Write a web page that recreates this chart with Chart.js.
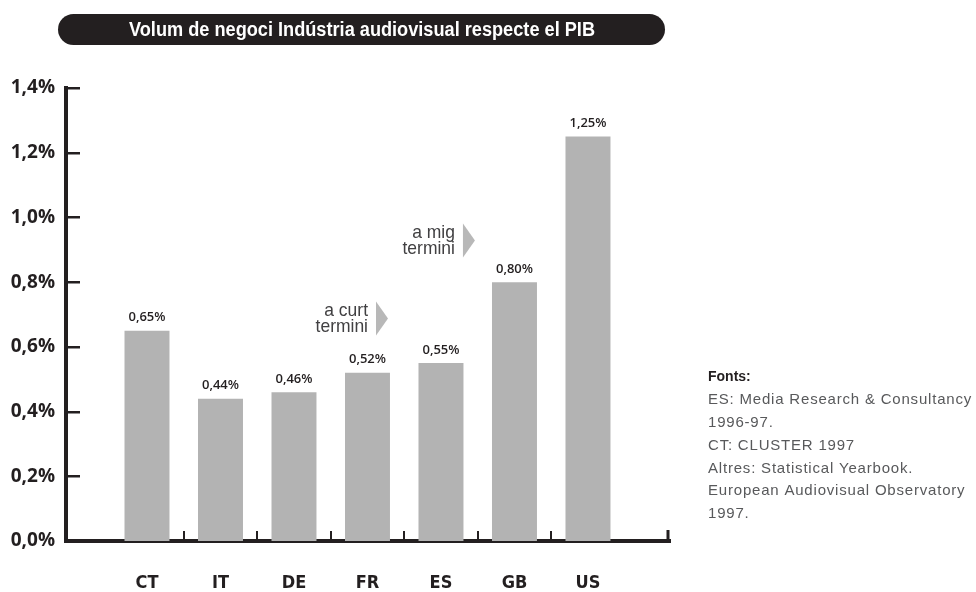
<!DOCTYPE html>
<html>
<head>
<meta charset="utf-8">
<script src="https://cdn.jsdelivr.net/npm/chart.js@4.4.1/dist/chart.umd.min.js"></script>
<style>
  html, body { margin: 0; padding: 0; background: #ffffff; }
  #wrap { width: 976px; height: 592px; }
</style>
</head>
<body>
<div id="wrap"><canvas id="c" width="976" height="592"></canvas></div>
<script>
// ---- data ----
const categories = ['CT', 'IT', 'DE', 'FR', 'ES', 'GB', 'US'];
const values = [0.65, 0.44, 0.46, 0.52, 0.55, 0.80, 1.25];
const valueLabels = ['0,65%', '0,44%', '0,46%', '0,52%', '0,55%', '0,80%', '1,25%'];
const yTicks = [0, 0.2, 0.4, 0.6, 0.8, 1.0, 1.2, 1.4];
const yTickLabels = ['0,0%', '0,2%', '0,4%', '0,6%', '0,8%', '1,0%', '1,2%', '1,4%'];
const titleText = 'Volum de negoci Indústria audiovisual respecte el PIB';
const sourceTitle = 'Fonts:';
const sourceLines = [
  'ES: Media Research & Consultancy',
  '1996-97.',
  'CT: CLUSTER 1997',
  'Altres: Statistical Yearbook.',
  'European Audiovisual Observatory',
  '1997.'
];
const annotationTexts = [['a curt', 'termini'], ['a mig', 'termini']];

// ---- layout / style (not data) ----
const annotationPos = [ { xRight: 3.007, yMid: 0.688 }, { xRight: 4.19, yMid: 0.929 } ];
const DARK = '#231f20';
const BAR = '#b3b3b3';
const COND = "'DejaVu Sans Condensed', 'DejaVu Sans', sans-serif";

function condensedText(ctx, text, cx, cy, targetW, align) {
  const w = ctx.measureText(text).width;
  const s = Math.min(1, targetW / w);
  ctx.save();
  ctx.translate(cx, cy);
  ctx.scale(s, 1);
  ctx.textAlign = align;
  ctx.fillText(text, 0, 0);
  ctx.restore();
}

const decor = {
  id: 'decor',
  afterDraw(chart) {
    const { ctx, chartArea: a, scales: { x, y } } = chart;
    ctx.save();

    // title pill
    const pl = 58, pr = 665, pt = 14, pb = 45, r = (pb - pt) / 2;
    ctx.fillStyle = DARK;
    ctx.beginPath();
    ctx.moveTo(pl + r, pt);
    ctx.lineTo(pr - r, pt);
    ctx.arc(pr - r, pt + r, r, -Math.PI / 2, Math.PI / 2);
    ctx.lineTo(pl + r, pb);
    ctx.arc(pl + r, pt + r, r, Math.PI / 2, Math.PI * 1.5);
    ctx.closePath();
    ctx.fill();
    ctx.fillStyle = '#ffffff';
    ctx.font = "bold 20px 'Liberation Sans', Arial, sans-serif";
    ctx.textBaseline = 'middle';
    condensedText(ctx, titleText, 362, 30.5, 466, 'center');

    // y tick marks (inward)
    ctx.strokeStyle = DARK;
    ctx.lineWidth = 2.5;
    yTicks.forEach(v => {
      if (v === 0) return;
      const py = Math.round(y.getPixelForValue(v)) + 0.25;
      ctx.beginPath();
      ctx.moveTo(a.left, py);
      ctx.lineTo(a.left + 14, py);
      ctx.stroke();
    });

    // x tick marks (between categories, upward)
    ctx.lineWidth = 2;
    for (let i = 0; i < categories.length - 1; i++) {
      const px = Math.round(x.getPixelForValue(i + 0.5));
      ctx.beginPath();
      ctx.moveTo(px, a.bottom);
      ctx.lineTo(px, a.bottom - 10);
      ctx.stroke();
    }
    ctx.lineWidth = 3;
    ctx.beginPath();
    ctx.moveTo(a.right - 2, a.bottom);
    ctx.lineTo(a.right - 2, a.bottom - 11);
    ctx.stroke();

    // value labels
    const meta = chart.getDatasetMeta(0);
    ctx.fillStyle = DARK;
    ctx.font = "600 13px 'Open Sans', sans-serif";
    ctx.textAlign = 'center';
    ctx.textBaseline = 'middle';
    meta.data.forEach((bar, i) => {
      ctx.fillText(valueLabels[i], bar.x, bar.y - 13);
    });

    // annotations
    annotationTexts.forEach((lines, k) => {
      const p = annotationPos[k];
      const xr = x.getPixelForValue(p.xRight);
      const ym = y.getPixelForValue(p.yMid);
      ctx.fillStyle = '#414042';
      ctx.font = "19px 'Liberation Sans', Arial, sans-serif";
      ctx.textBaseline = 'middle';
      condensedText(ctx, lines[0], xr, ym - 8, ctx.measureText(lines[0]).width * 0.92, 'right');
      condensedText(ctx, lines[1], xr, ym + 8, ctx.measureText(lines[1]).width * 0.92, 'right');
      ctx.fillStyle = '#b8b8b8';
      ctx.beginPath();
      ctx.moveTo(xr + 8, ym - 17);
      ctx.lineTo(xr + 20, ym);
      ctx.lineTo(xr + 8, ym + 17);
      ctx.closePath();
      ctx.fill();
    });

    // sources
    const sx = 708;
    ctx.textAlign = 'left';
    ctx.textBaseline = 'middle';
    ctx.fillStyle = DARK;
    ctx.font = "bold 14px 'Liberation Sans', Arial, sans-serif";
    ctx.fillText(sourceTitle, sx, 377);
    ctx.fillStyle = '#58595b';
    ctx.font = "15px 'Liberation Sans', Arial, sans-serif";
    try { ctx.letterSpacing = '0.8px'; } catch (e) {}
    sourceLines.forEach((t, i) => {
      ctx.fillText(t, sx, 400 + i * 22.8);
    });
    try { ctx.letterSpacing = '0px'; } catch (e) {}

    ctx.restore();
  }
};

new Chart(document.getElementById('c'), {
  type: 'bar',
  data: {
    datasets: [{
      data: values.map((v, i) => ({ x: i, y: v })),
      backgroundColor: BAR,
      borderWidth: 0,
      categoryPercentage: 1,
      barPercentage: 0.612
    }]
  },
  options: {
    responsive: false,
    animation: false,
    devicePixelRatio: 1,
    layout: { padding: { top: 88, right: 306, left: 0, bottom: 0 } },
    plugins: { legend: { display: false }, tooltip: { enabled: false }, title: { display: false } },
    scales: {
      x: {
        type: 'linear',
        min: -1.102,
        max: 7.116,
        offset: false,
        grid: { display: false, drawTicks: false },
        border: { display: true, width: 4, color: DARK },
        afterBuildTicks: s => { s.ticks = categories.map((c, i) => ({ value: i })); },
        afterFit: s => { s.height = 51; },
        ticks: {
          autoSkip: false, maxRotation: 0, padding: 32,
          color: DARK,
          font: { family: COND, weight: 'bold', size: 18 },
          callback: v => categories[v]
        }
      },
      y: {
        min: 0,
        max: 1.4,
        grid: { display: false, drawTicks: false },
        border: { display: true, width: 4, color: DARK },
        afterBuildTicks: s => { s.ticks = yTicks.map(v => ({ value: v })); },
        afterFit: s => { s.width = 66; },
        ticks: {
          padding: 11,
          color: DARK,
          font: { family: "'Open Sans', sans-serif", weight: 'bold', size: 19 },
          callback: (v, i) => yTickLabels[i]
        }
      }
    }
  },
  plugins: [decor]
});
</script>
</body>
</html>
